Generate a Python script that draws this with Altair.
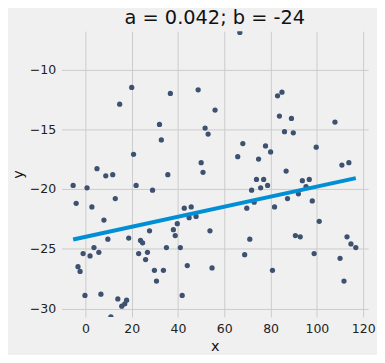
import altair as alt
import pandas as pd

xs = [14.8, 20.0, 32.0, 32.8, 20.8, 5.0, 8.8, 11.8, 36.7, 35.6, 66.7, 48.7, 56.0, 51.7, 53.0,
      84.9, 83.0, 83.8, 86.0, 68.0, 65.8, 77.8, 80.0, 74.8, 50.0, 50.8, 86.7, 73.9, 77.0,
      89.0, 89.8, 107.8, 99.7, 110.8, 113.8, 93.7, 96.7, -5.3, 0.7, -4.0, 2.8, 12.9, 21.9,
      29.0, 8.0, 9.7, 18.7, 27.7, 23.8, 24.7, 35.0, 3.7, -1.0, 2.0, 5.8, 23.0, 26.8, 26.0,
      -3.2, -2.3, 29.8, 33.7, 30.7, -0.2, 6.7, 14.0, 17.8, 17.0, 15.7, 11.0, 71.8, 75.7,
      78.7, 72.9, 69.7, 81.7, 87.3, 42.7, 45.7, 44.8, 47.8, 39.7, 38.0, 38.8, 53.8, 41.0,
      71.0, 68.8, 44.0, 54.7, 80.8, 41.8, 95.3, 92.0, 98.0, 101.0, 90.7, 92.8, 98.8, 113.0,
      114.7, 116.8, 110.0, 111.7]
ys = [-12.9, -11.5, -14.6, -15.9, -17.1, -18.3, -18.9, -18.8, -12.0, -18.8, -6.9, -11.7,
      -13.4, -14.9, -15.4, -11.9, -12.2, -13.9, -15.2, -16.2, -17.3, -16.4, -16.9, -17.5,
      -17.8, -18.6, -18.5, -19.2, -19.2, -14.1, -15.3, -14.4, -16.5, -18.0, -17.8, -19.3,
      -19.2, -19.7, -19.9, -21.2, -21.5, -20.8, -19.7, -20.1, -22.6, -24.2, -24.1, -23.5,
      -24.3, -24.5, -24.9, -24.9, -25.4, -25.6, -25.3, -25.4, -25.3, -25.9, -26.5, -26.9,
      -26.8, -26.8, -27.7, -28.9, -28.8, -29.2, -29.3, -29.6, -29.8, -30.7, -20.1, -19.9,
      -19.7, -21.1, -21.6, -21.5, -20.8, -21.6, -21.5, -22.4, -22.3, -22.9, -23.4, -23.9,
      -23.5, -24.9, -24.2, -25.5, -26.4, -26.6, -26.8, -28.9, -19.8, -20.4, -21.0, -22.7,
      -23.9, -24.0, -25.4, -24.0, -24.6, -24.9, -25.8, -27.7]

a = 0.042
b = -24
x_ticks = [0, 20, 40, 60, 80, 100, 120]
y_ticks = [-30, -25, -20, -15, -10]

pts = pd.DataFrame({"x": xs, "y": ys})
line_x = [min(xs), max(xs)]
line = pd.DataFrame({"x": line_x, "y": [a * v + b for v in line_x]})

xscale = alt.Scale(domain=[-10.3, 122.1], nice=False, zero=False)
yscale = alt.Scale(domain=[-30.7, -6.8], nice=False, zero=False)
xaxis = alt.Axis(values=x_ticks, title="x")
yaxis = alt.Axis(values=y_ticks, title="y")

scatter = alt.Chart(pts).mark_circle(size=28, color="#3d5170", opacity=1, clip=True).encode(
    x=alt.X("x:Q", scale=xscale, axis=xaxis),
    y=alt.Y("y:Q", scale=yscale, axis=yaxis),
)
fit = alt.Chart(line).mark_line(color="#008fd5", strokeWidth=4, clip=True).encode(
    x=alt.X("x:Q", scale=xscale),
    y=alt.Y("y:Q", scale=yscale),
)

chart = (scatter + fit).properties(
    width=309,
    height=288,
    title=alt.TitleParams(f"a = {a}; b = {b}", fontSize=19.5, font="DejaVu Sans",
                          fontWeight="normal", color="#111", anchor="middle", offset=3),
    autosize=alt.AutoSizeParams(type="none"),
    padding={"left": 54, "top": 22, "right": 9, "bottom": 37},
    background="#f0f0f0",
).configure_view(stroke=None, fill="#f0f0f0").configure_axis(
    grid=True, gridColor="#cbcbcb", gridWidth=1, domain=False, ticks=False,
    labelFont="DejaVu Sans", labelFontSize=12.6, labelColor="#222", labelPadding=6,
    titleFont="DejaVu Sans", titleFontSize=14.5, titleFontWeight="normal", titleColor="#111",
)

chart.save("out.html", embed_options={"renderer": "svg", "actions": False})
